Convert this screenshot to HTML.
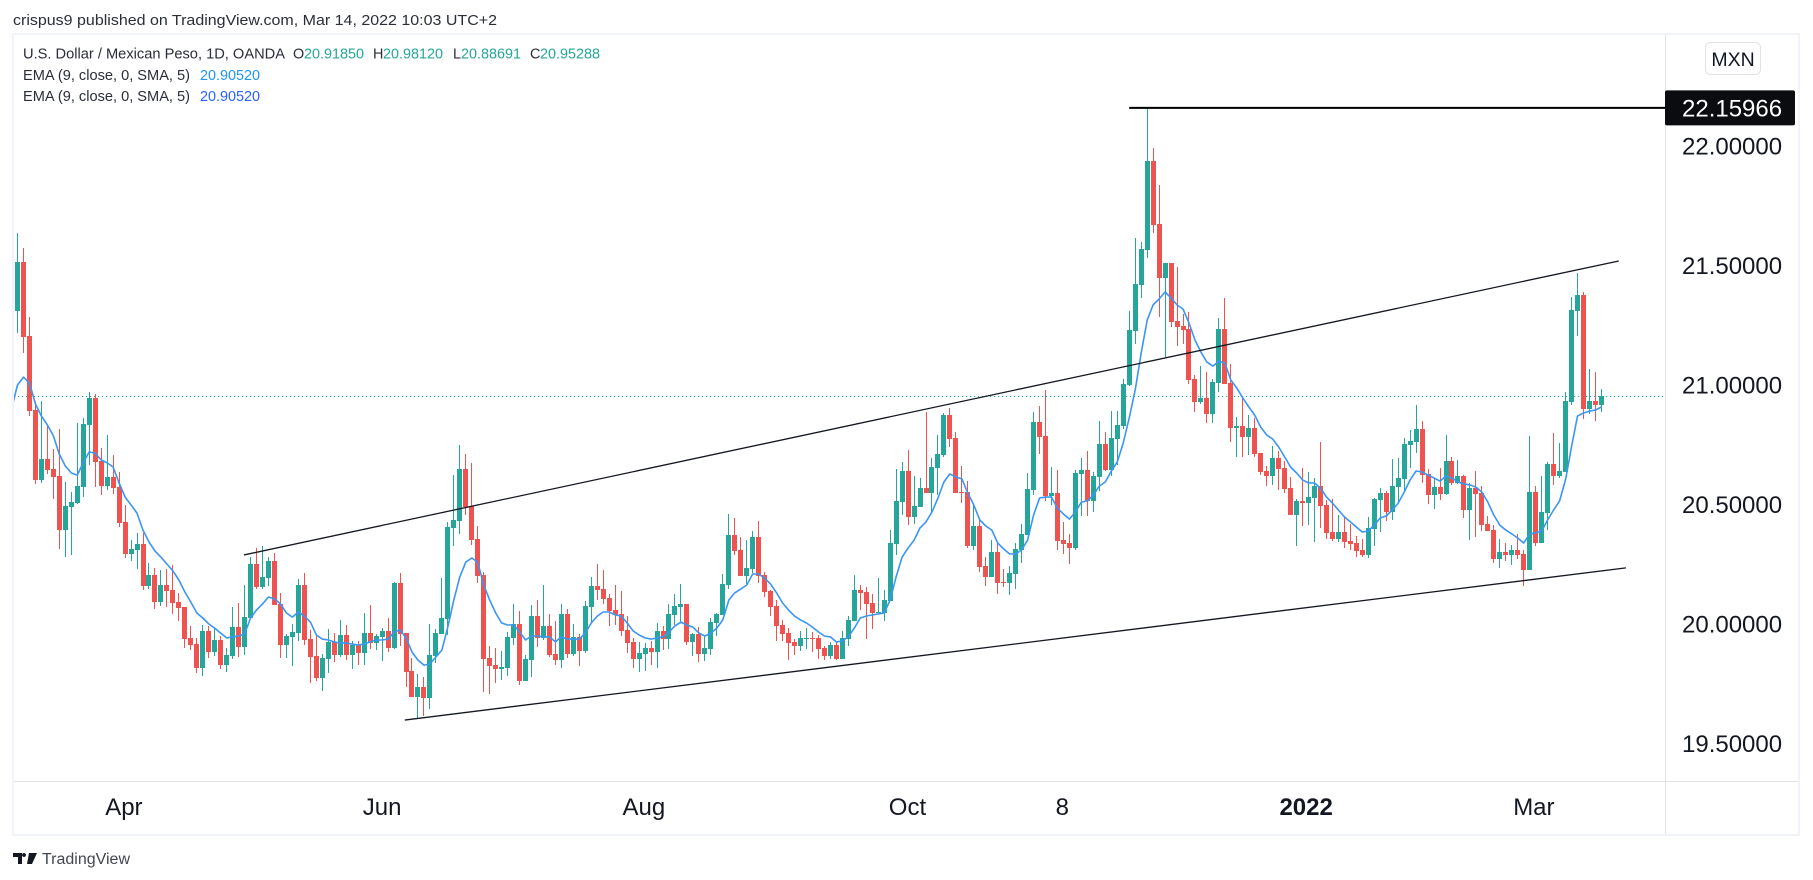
<!DOCTYPE html>
<html lang="en">
<head>
<meta charset="utf-8">
<title>USD/MXN chart</title>
<style>
html,body{margin:0;padding:0;background:#fff;width:1813px;height:880px;overflow:hidden}
svg{display:block;position:absolute;left:0;top:0}
text{font-family:"Liberation Sans",sans-serif}
</style>
</head>
<body>
<svg id="chart" xmlns="http://www.w3.org/2000/svg" width="1813" height="880" viewBox="0 0 1813 880">
  <defs><clipPath id="plot-clip"><rect x="14" y="35" width="1651" height="746"/></clipPath></defs>
  <rect x="0" y="0" width="1813" height="880" fill="#ffffff"/>
  <text x="13" y="25" font-size="14.5" fill="#2a2e39" textLength="484" lengthAdjust="spacingAndGlyphs">crispus9 published on TradingView.com, Mar 14, 2022 10:03 UTC+2</text>
  <rect x="13" y="34" width="1786" height="801" fill="none" stroke="#f0f3fa" stroke-width="2"/>
  <line x1="1665.5" y1="35" x2="1665.5" y2="834" stroke="#e0e3eb" stroke-width="1"/>
  <line x1="14" y1="781.5" x2="1798" y2="781.5" stroke="#e0e3eb" stroke-width="1"/>
  <g id="last-price-layer"></g>
  <g id="candles" clip-path="url(#plot-clip)" shape-rendering="crispEdges"></g>
  <g id="ema-layer" clip-path="url(#plot-clip)"></g>
  <g id="drawings"></g>

  <g font-size="14.4">
    <text x="23" y="58.5" fill="#2a2e39" textLength="262" lengthAdjust="spacingAndGlyphs">U.S. Dollar / Mexican Peso, 1D, OANDA</text>
    <text x="293" y="58.5" fill="#2a2e39">O</text>
    <text x="304" y="58.5" fill="#26a69a">20.91850</text>
    <text x="373" y="58.5" fill="#2a2e39">H</text>
    <text x="383" y="58.5" fill="#26a69a">20.98120</text>
    <text x="453" y="58.5" fill="#2a2e39">L</text>
    <text x="461" y="58.5" fill="#26a69a">20.88691</text>
    <text x="530" y="58.5" fill="#2a2e39">C</text>
    <text x="540" y="58.5" fill="#26a69a">20.95288</text>
    <text x="23" y="80" fill="#2a2e39" textLength="167" lengthAdjust="spacingAndGlyphs">EMA (9, close, 0, SMA, 5)</text>
    <text x="200" y="80" fill="#2196f3">20.90520</text>
    <text x="23" y="101" fill="#2a2e39" textLength="167" lengthAdjust="spacingAndGlyphs">EMA (9, close, 0, SMA, 5)</text>
    <text x="200" y="101" fill="#2962ff">20.90520</text>
  </g>

  <g id="price-axis"></g>
  <g id="time-axis"></g>

  <g>
    <rect x="1705.5" y="42.5" width="55" height="32" rx="5" fill="#fff" stroke="#e0e3eb" stroke-width="1"/>
    <text x="1733" y="66" font-size="19.5" fill="#131722" text-anchor="middle">MXN</text>
  </g>

  <g>
    <path d="M13 853h9v11h-4v-7h-5zM24 853a2 2 0 1 0 .01 0zM29 853h8l-5 11h-5z" fill="#131722"/>
    <text x="42" y="864" font-size="15.5" fill="#434651" textLength="88" lengthAdjust="spacingAndGlyphs">TradingView</text>
  </g>
</svg>
<script>
const opens=[21.310,21.515,21.205,20.895,20.603,20.690,20.648,20.619,20.393,20.490,
20.506,20.574,20.833,20.946,20.682,20.578,20.615,20.574,20.427,20.293,
20.310,20.334,20.159,20.205,20.092,20.163,20.142,20.092,20.071,19.942,
19.916,19.816,19.971,19.883,19.933,19.828,19.866,19.988,19.904,20.026,
20.251,20.155,20.193,20.264,20.083,19.912,19.946,19.962,20.163,19.937,
19.866,19.775,19.853,19.925,19.870,19.954,19.870,19.912,19.878,19.962,
19.920,19.946,19.971,19.900,20.171,19.962,19.804,19.695,19.737,19.691,
19.866,19.958,20.021,20.402,20.431,20.648,20.494,20.355,20.205,19.858,
19.828,19.812,19.816,19.942,20.000,19.762,19.849,20.034,19.942,19.992,
19.874,19.849,20.042,19.874,19.946,19.887,20.071,20.159,20.146,20.109,
20.059,20.042,19.975,19.925,19.853,19.874,19.900,19.883,19.971,19.937,
20.038,20.071,20.083,19.925,19.958,19.874,19.895,20.004,20.038,20.163,
20.372,20.310,20.201,20.230,20.364,20.205,20.138,20.075,19.996,19.962,
19.925,19.908,19.937,19.942,19.942,19.900,19.866,19.912,19.853,19.937,
20.013,20.142,20.134,20.088,20.046,20.046,20.096,20.334,20.511,20.640,
20.448,20.490,20.569,20.548,20.653,20.707,20.874,20.778,20.552,20.552,
20.326,20.410,20.243,20.197,20.301,20.176,20.171,20.209,20.310,20.372,
20.561,20.845,20.787,20.536,20.548,20.351,20.339,20.318,20.628,20.644,
20.515,20.615,20.753,20.644,20.774,20.828,21.000,21.226,21.418,21.565,
21.937,21.674,21.448,21.510,21.268,21.247,21.234,21.025,20.929,20.946,
20.879,21.008,21.234,21.008,20.820,20.828,20.782,20.820,20.715,20.640,
20.619,20.695,20.653,20.569,20.456,20.515,20.506,20.527,20.578,20.498,
20.385,20.355,20.385,20.347,20.339,20.310,20.289,20.397,20.519,20.548,
20.469,20.574,20.607,20.749,20.762,20.816,20.628,20.540,20.574,20.544,
20.682,20.590,20.619,20.477,20.569,20.548,20.418,20.393,20.272,20.301,
20.289,20.310,20.293,20.226,20.552,20.339,20.464,20.669,20.619,20.636,
20.929,21.310,21.377,20.900,20.933,20.918];

const highs=[21.636,21.574,21.285,20.929,20.933,20.833,20.732,20.816,20.594,20.552,
20.841,20.862,20.971,20.962,20.736,20.791,20.707,20.636,20.498,20.351,
20.381,20.381,20.255,20.234,20.226,20.230,20.247,20.130,20.071,19.992,
19.942,19.996,19.992,19.983,19.950,19.900,20.071,20.088,20.163,20.281,
20.318,20.326,20.281,20.297,20.130,19.958,20.000,20.188,20.213,19.975,
19.950,19.874,19.979,19.962,20.017,19.996,19.929,19.929,20.046,20.079,
19.958,19.983,20.025,20.176,20.213,19.962,19.858,19.791,19.778,20.000,
19.979,20.192,20.427,20.623,20.749,20.711,20.674,20.410,20.218,19.908,
19.900,19.887,19.967,20.083,20.054,19.870,20.079,20.100,20.163,20.042,
20.013,20.083,20.063,20.000,19.958,20.096,20.197,20.251,20.226,20.126,
20.163,20.138,20.034,19.942,19.925,19.920,19.929,20.004,19.992,20.083,
20.126,20.167,20.083,19.962,19.987,19.954,20.025,20.046,20.209,20.460,
20.444,20.364,20.351,20.389,20.431,20.218,20.142,20.100,20.017,19.983,
19.937,19.971,19.983,19.967,19.954,19.908,19.925,19.929,19.971,20.034,
20.205,20.163,20.155,20.126,20.192,20.142,20.393,20.648,20.678,20.728,
20.619,20.611,20.887,20.695,20.791,20.883,20.904,20.803,20.661,20.598,
20.498,20.435,20.281,20.351,20.339,20.230,20.243,20.339,20.418,20.632,
20.887,20.912,20.979,20.657,20.644,20.427,20.377,20.644,20.695,20.724,
20.636,20.849,20.803,20.891,20.891,21.025,21.310,21.616,21.598,22.159,
21.992,21.837,21.510,21.510,21.494,21.297,21.305,21.042,21.079,21.054,
21.025,21.280,21.364,21.088,20.866,20.950,20.874,20.862,20.715,20.661,
20.745,20.724,20.682,20.615,20.523,20.653,20.636,20.611,20.762,20.519,
20.523,20.456,20.448,20.418,20.368,20.356,20.448,20.527,20.569,20.556,
20.690,20.695,20.778,20.812,20.916,20.849,20.649,20.611,20.653,20.791,
20.699,20.686,20.623,20.590,20.640,20.577,20.452,20.414,20.356,20.339,
20.331,20.377,20.310,20.787,20.577,20.619,20.678,20.799,20.757,20.971,
21.368,21.469,21.389,21.067,21.054,20.983];

const lows=[21.217,21.134,20.870,20.586,20.590,20.628,20.523,20.314,20.281,20.289,
20.502,20.531,20.665,20.573,20.540,20.561,20.544,20.406,20.276,20.264,
20.230,20.142,20.146,20.063,20.075,20.071,20.042,20.013,19.900,19.891,
19.795,19.782,19.858,19.866,19.812,19.799,19.854,19.862,19.870,20.026,
20.146,20.146,20.159,20.079,19.858,19.858,19.824,19.929,19.912,19.753,
19.762,19.720,19.795,19.841,19.862,19.849,19.812,19.828,19.828,19.895,
19.891,19.845,19.883,19.895,19.908,19.736,19.695,19.603,19.615,19.644,
19.837,19.958,19.954,20.326,20.377,20.456,20.331,20.171,19.716,19.707,
19.753,19.766,19.782,19.912,19.745,19.762,19.778,19.904,19.933,19.862,
19.828,19.816,19.858,19.866,19.824,19.879,20.008,20.100,20.083,19.992,
19.996,19.950,19.879,19.816,19.799,19.803,19.828,19.816,19.891,19.895,
19.996,20.004,19.912,19.866,19.841,19.845,19.870,19.950,20.038,20.146,
20.289,20.201,20.167,20.213,20.171,20.113,20.034,19.929,19.929,19.849,
19.870,19.887,19.895,19.883,19.854,19.849,19.854,19.849,19.854,19.908,
20.013,20.059,19.937,19.979,20.046,20.013,20.096,20.289,20.456,20.414,
20.418,20.490,20.548,20.460,20.540,20.699,20.741,20.548,20.506,20.318,
20.310,20.218,20.159,20.197,20.126,20.155,20.121,20.146,20.255,20.372,
20.540,20.711,20.515,20.498,20.310,20.293,20.251,20.310,20.452,20.452,
20.469,20.556,20.640,20.619,20.665,20.816,20.996,21.172,21.364,21.531,
21.636,21.285,21.117,21.243,21.163,21.172,21.004,20.887,20.921,20.841,
20.841,20.971,21.004,20.762,20.699,20.699,20.707,20.699,20.623,20.577,
20.582,20.561,20.548,20.456,20.326,20.410,20.414,20.343,20.402,20.356,
20.347,20.343,20.318,20.310,20.280,20.280,20.276,20.326,20.385,20.431,
20.435,20.506,20.552,20.653,20.715,20.590,20.502,20.481,20.519,20.540,
20.582,20.586,20.444,20.351,20.364,20.389,20.389,20.255,20.234,20.264,
20.247,20.272,20.159,20.226,20.326,20.339,20.393,20.582,20.611,20.636,
20.916,21.205,20.858,20.879,20.849,20.887];

const closes=[21.515,21.201,20.891,20.603,20.690,20.644,20.615,20.393,20.494,20.510,
20.578,20.837,20.946,20.678,20.578,20.615,20.569,20.423,20.293,20.314,
20.334,20.159,20.205,20.092,20.163,20.138,20.088,20.067,19.937,19.912,
19.816,19.971,19.883,19.933,19.828,19.870,19.988,19.904,20.029,20.251,
20.155,20.197,20.264,20.079,19.912,19.950,19.967,20.163,19.933,19.862,
19.775,19.858,19.925,19.870,19.954,19.870,19.912,19.878,19.962,19.920,
19.950,19.971,19.900,20.171,19.958,19.799,19.695,19.737,19.691,19.870,
19.962,20.025,20.406,20.435,20.648,20.490,20.351,20.201,19.854,19.824,
19.812,19.820,19.946,20.000,19.762,19.854,20.034,19.942,19.992,19.870,
19.849,20.042,19.874,19.946,19.887,20.075,20.159,20.142,20.105,20.054,
20.038,19.971,19.920,19.854,19.879,19.900,19.883,19.971,19.937,20.042,
20.075,20.083,19.925,19.958,19.874,19.900,20.008,20.042,20.167,20.372,
20.305,20.201,20.234,20.364,20.201,20.134,20.071,19.992,19.958,19.920,
19.908,19.942,19.942,19.937,19.895,19.866,19.912,19.854,19.942,20.017,
20.142,20.130,20.083,20.046,20.050,20.100,20.339,20.515,20.640,20.448,
20.494,20.569,20.548,20.657,20.711,20.874,20.774,20.548,20.548,20.326,
20.410,20.238,20.197,20.301,20.171,20.171,20.213,20.314,20.377,20.565,
20.845,20.782,20.536,20.548,20.347,20.335,20.318,20.632,20.644,20.515,
20.619,20.753,20.644,20.778,20.833,21.004,21.230,21.423,21.569,21.937,
21.669,21.448,21.510,21.264,21.243,21.230,21.021,20.929,20.946,20.879,
21.013,21.234,21.004,20.820,20.828,20.782,20.820,20.711,20.636,20.619,
20.695,20.649,20.565,20.456,20.515,20.506,20.531,20.578,20.494,20.381,
20.356,20.385,20.343,20.335,20.305,20.289,20.402,20.523,20.548,20.469,
20.578,20.611,20.753,20.766,20.816,20.623,20.540,20.574,20.544,20.682,
20.590,20.619,20.477,20.569,20.544,20.414,20.389,20.272,20.301,20.289,
20.310,20.289,20.226,20.552,20.339,20.469,20.669,20.619,20.640,20.933,
21.314,21.377,20.900,20.933,20.916,20.954];

const emaValues=[21.000,21.033,21.008,20.921,20.870,20.833,20.787,20.711,20.661,20.632,
20.623,20.674,20.720,20.715,20.686,20.674,20.657,20.590,20.531,20.498,
20.464,20.393,20.343,20.305,20.280,20.251,20.222,20.184,20.134,20.092,
20.046,20.025,20.000,19.983,19.962,19.942,19.946,19.950,19.958,20.025,
20.059,20.084,20.113,20.105,20.084,20.046,20.029,20.050,20.033,20.008,
19.954,19.937,19.933,19.925,19.920,19.920,19.916,19.912,19.916,19.925,
19.933,19.933,19.937,19.967,19.975,19.942,19.883,19.849,19.828,19.833,
19.862,19.891,19.987,20.100,20.197,20.259,20.276,20.259,20.163,20.100,
20.046,20.004,19.996,19.996,19.967,19.933,19.950,19.950,19.946,19.946,
19.925,19.946,19.937,19.937,19.937,19.962,20.004,20.033,20.050,20.050,
20.038,20.033,20.004,19.971,19.954,19.942,19.937,19.942,19.946,19.967,
19.992,20.008,19.996,19.987,19.962,19.950,19.962,19.983,20.017,20.100,
20.130,20.146,20.163,20.209,20.209,20.192,20.167,20.130,20.088,20.059,
20.033,20.017,20.004,19.987,19.967,19.950,19.946,19.925,19.929,19.946,
19.983,20.025,20.033,20.038,20.042,20.046,20.100,20.197,20.280,20.318,
20.351,20.402,20.427,20.469,20.527,20.594,20.628,20.615,20.607,20.548,
20.498,20.435,20.410,20.393,20.339,20.314,20.293,20.293,20.310,20.351,
20.456,20.527,20.531,20.531,20.485,20.460,20.439,20.469,20.510,20.515,
20.540,20.577,20.594,20.640,20.678,20.757,20.862,20.979,21.134,21.272,
21.335,21.360,21.389,21.364,21.335,21.318,21.259,21.188,21.138,21.096,
21.079,21.100,21.092,21.021,20.987,20.946,20.908,20.874,20.824,20.791,
20.774,20.741,20.699,20.657,20.632,20.603,20.590,20.590,20.569,20.531,
20.506,20.477,20.448,20.427,20.406,20.385,20.389,20.414,20.444,20.452,
20.477,20.506,20.552,20.603,20.640,20.636,20.623,20.611,20.598,20.619,
20.611,20.594,20.586,20.582,20.573,20.552,20.510,20.456,20.414,20.393,
20.377,20.360,20.339,20.377,20.381,20.389,20.435,20.477,20.515,20.603,
20.741,20.870,20.883,20.891,20.895,20.908];

const emaBeforeFirst=[20.900];
const priceTicks=[22,21.5,21,20.5,20,19.5];
const timeLabels=["Apr","Jun","Aug","Oct","8","2022","Mar"];
const timeTickIndex=[17.8,61,104.8,148.9,174.8,215.6,253.7];
const upperTrendIndex=[37.9,267.9];
const upperTrendPrice=[20.289,21.519];
const lowerTrendIndex=[64.8,269.1];
const lowerTrendPrice=[19.598,20.235];
const highMarkStartIndex=186;
const highMarkPrice=22.15966;
const lastClosePrice=20.95288;

const NS='http://www.w3.org/2000/svg';
function xScale(i){return 17.5+5.977*i;}
function yScale(v){return 385+(21-v)*239;}
function make(tag,attrs,parent){
  const el=document.createElementNS(NS,tag);
  for(const k in attrs){el.setAttribute(k,attrs[k]);}
  parent.appendChild(el);
  return el;
}
const candleLayer=document.getElementById('candles');
for(let i=0;i<opens.length;i++){
  const color=closes[i]>=opens[i]?'#26a69a':'#ef5350';
  const px=Math.floor(xScale(i));
  const wick=make('rect',{x:px,y:Math.round(yScale(highs[i])),width:1,height:Math.max(1,Math.round(yScale(lows[i]))-Math.round(yScale(highs[i]))),fill:color},candleLayer);
  
  
  const top=Math.round(yScale(Math.max(opens[i],closes[i])));
  const bot=Math.round(yScale(Math.min(opens[i],closes[i])));
  const body=make('rect',{x:px-2,y:top,width:5,height:Math.max(1,bot-top),fill:color},candleLayer);
  
  
}
const emaLayer=document.getElementById('ema-layer');
let emaPath='M'+xScale(-1).toFixed(1)+' '+yScale(emaBeforeFirst[0]).toFixed(1);
for(let i=0;i<emaValues.length;i++){
  emaPath+=' L'+xScale(i).toFixed(1)+' '+yScale(emaValues[i]).toFixed(1);
}
const emaLine=make('path',{d:emaPath,fill:'none',stroke:'#3a96f3','stroke-width':1.6,'stroke-linejoin':'round'},emaLayer);


const edgeMark=make('line',{x1:13.5,y1:yScale(21.31),x2:13.5,y2:yScale(21.13),stroke:'#a5cff5','stroke-width':1},emaLayer);



const lastLayer=document.getElementById('last-price-layer');
const lastY=Math.round(yScale(lastClosePrice))+0.5;
const lastLine=make('line',{x1:14,y1:lastY,x2:1665,y2:lastY,stroke:'#26a69a','stroke-width':1,'stroke-dasharray':'1.2 2.8'},lastLayer);



const drawings=document.getElementById('drawings');
const upperLine=make('line',{x1:xScale(upperTrendIndex[0]),y1:yScale(upperTrendPrice[0]),x2:xScale(upperTrendIndex[1]),y2:yScale(upperTrendPrice[1]),stroke:'#131722','stroke-width':1.3},drawings);


const lowerLine=make('line',{x1:xScale(lowerTrendIndex[0]),y1:yScale(lowerTrendPrice[0]),x2:xScale(lowerTrendIndex[1]),y2:yScale(lowerTrendPrice[1]),stroke:'#131722','stroke-width':1.3},drawings);


const highLine=make('line',{x1:xScale(highMarkStartIndex),y1:yScale(highMarkPrice),x2:1665,y2:yScale(highMarkPrice),stroke:'#000000','stroke-width':2},drawings);



const priceAxis=document.getElementById('price-axis');
for(const p of priceTicks){
  const t=make('text',{x:1682,y:yScale(p)+8.5,'font-size':24,fill:'#131722'},priceAxis);
  t.textContent=p.toFixed(5);
  
  
}
const highY=yScale(highMarkPrice);
const highBox=make('rect',{x:1665,y:highY-17.5,width:130,height:35,rx:2,fill:'#0b0c10'},priceAxis);


const highText=make('text',{x:1682,y:highY+8.5,'font-size':24,fill:'#ffffff'},priceAxis);
highText.textContent=highMarkPrice.toFixed(5);



const timeAxis=document.getElementById('time-axis');
for(let i=0;i<timeLabels.length;i++){
  const t=make('text',{x:xScale(timeTickIndex[i]),y:815,'font-size':24,fill:'#131722','text-anchor':'middle'},timeAxis);
  if(timeLabels[i]==='2022'){t.setAttribute('font-weight','bold');}
  t.textContent=timeLabels[i];
  
  
}
</script>
</body>
</html>
